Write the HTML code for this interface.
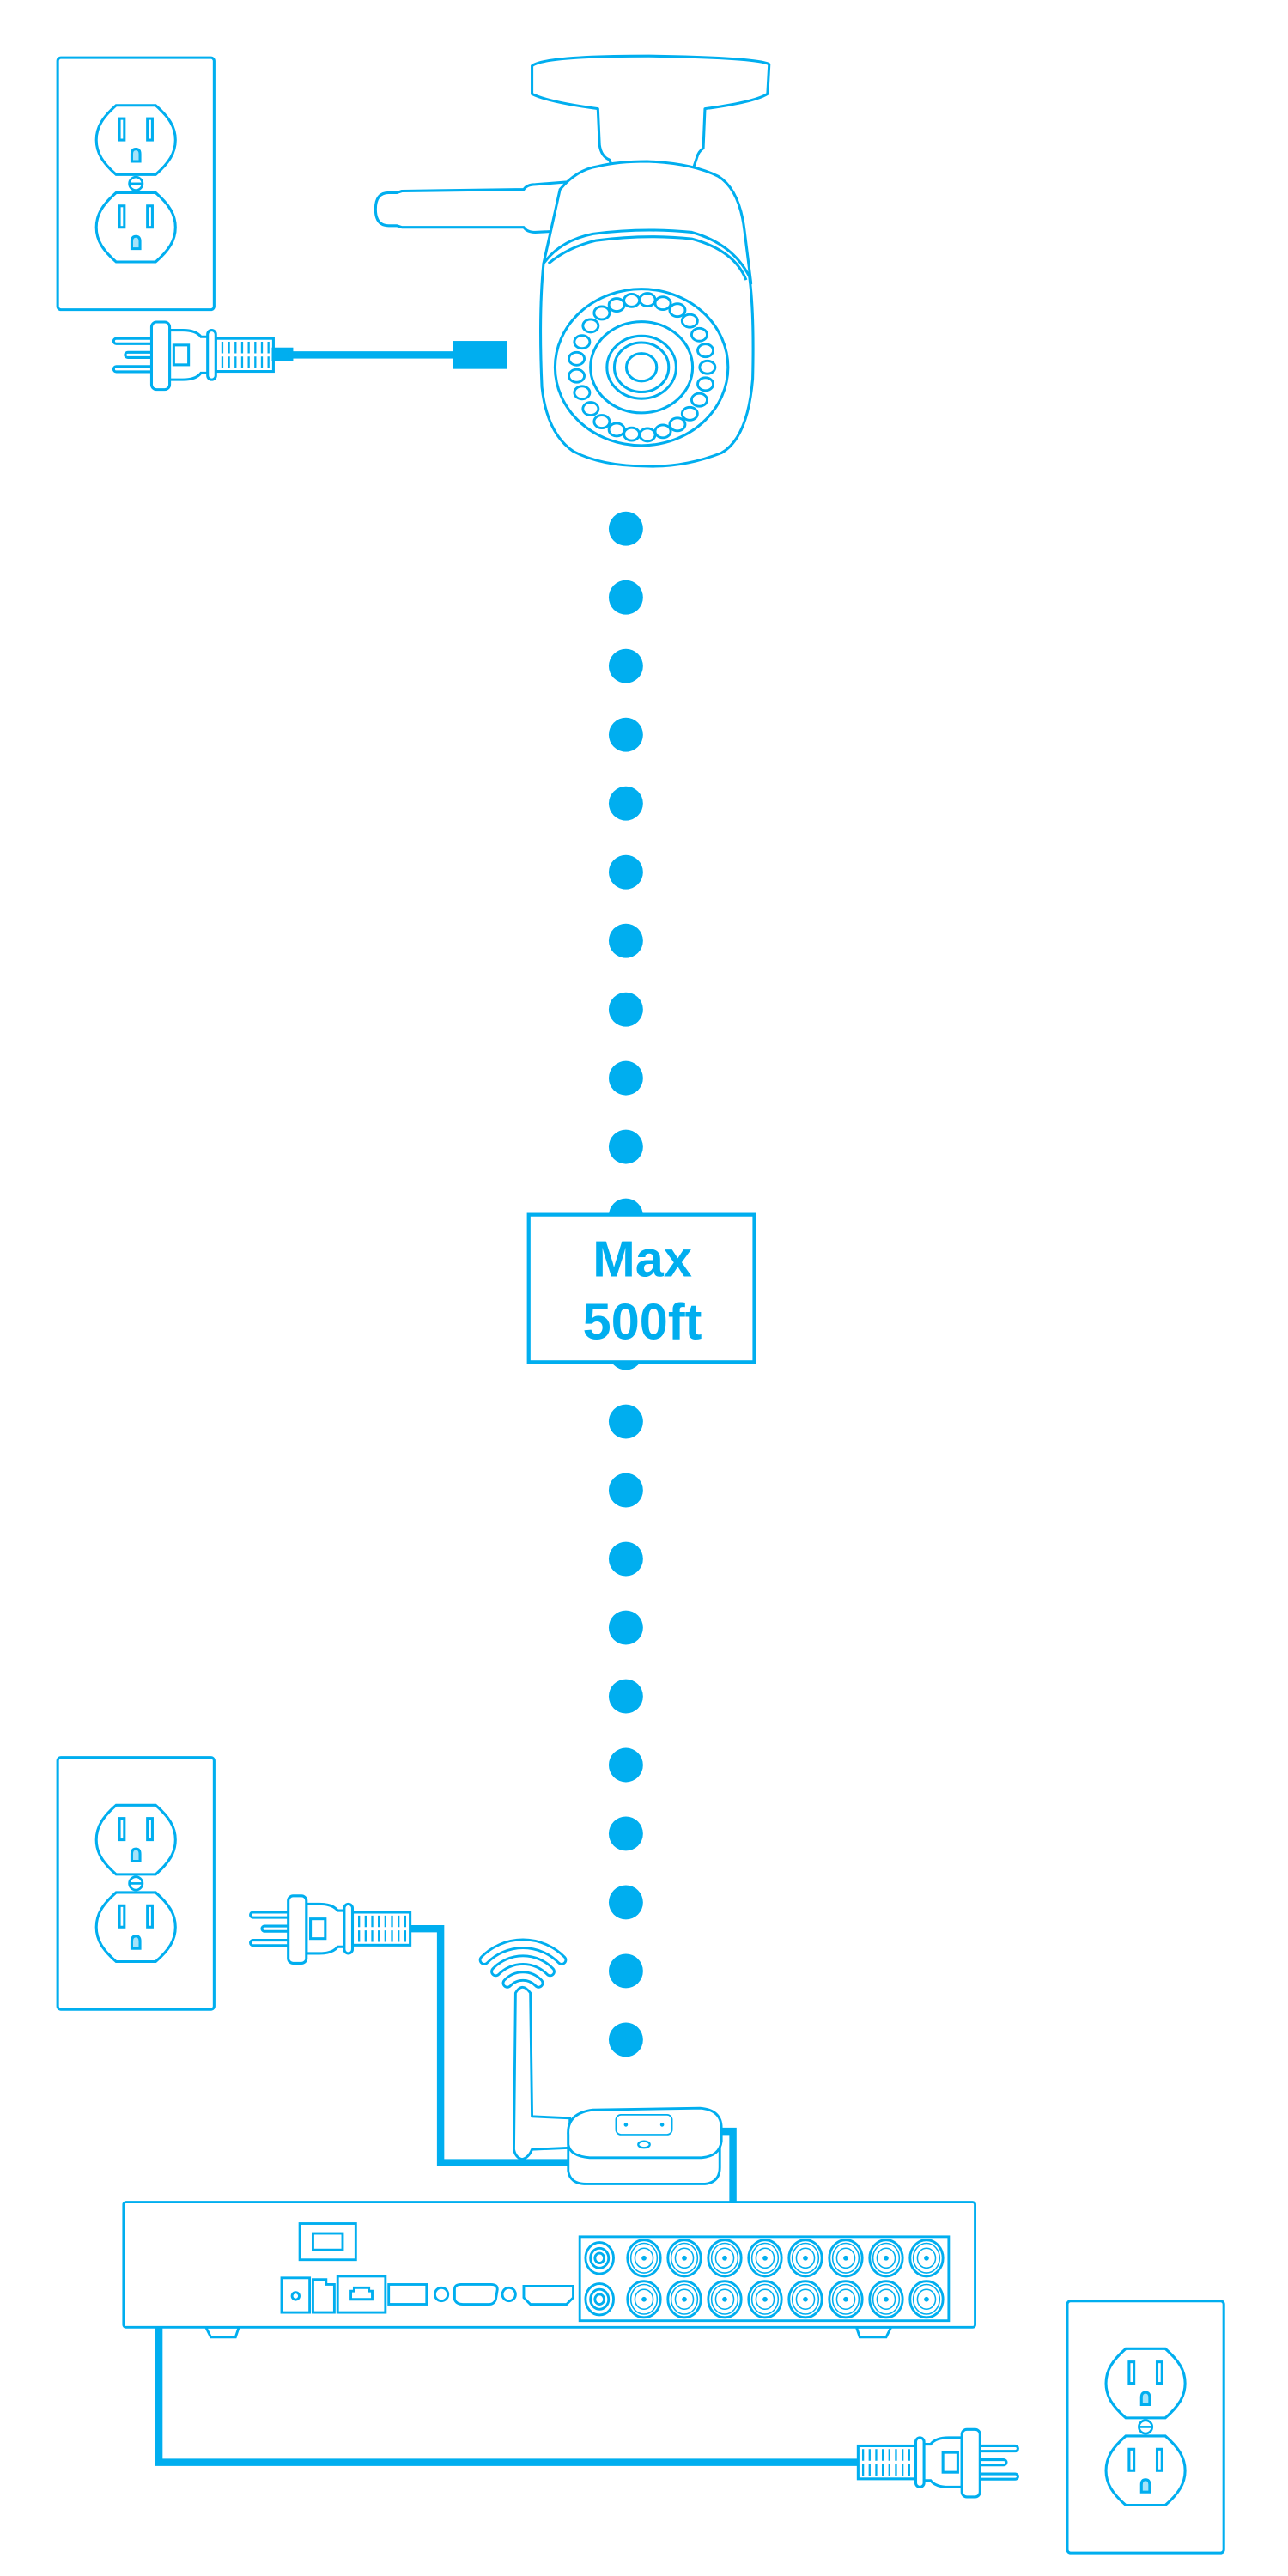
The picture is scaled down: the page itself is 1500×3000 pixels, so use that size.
<!DOCTYPE html>
<html><head><meta charset="utf-8"><style>
html,body{margin:0;padding:0;background:#fff;}
svg{display:block;}
</style></head><body>
<svg width="1500" height="3000" viewBox="0 0 782 1564" xmlns="http://www.w3.org/2000/svg">
<defs>
<g id="rec" fill="none" stroke="#00aeef" stroke-width="1.6">
  <path d="M-12,-21 H12 C20,-14 24,-8 24,0 C24,8 20,14 12,21 H-12 C-20,14 -24,8 -24,0 C-24,-8 -20,-14 -12,-21 Z"/>
  <rect x="-10" y="-13" width="3" height="13"/>
  <rect x="7" y="-13" width="3" height="13"/>
  <path d="M-2.5,13 V8.5 Q-2.5,5.5 0,5.5 Q2.5,5.5 2.5,8.5 V13 Z" fill="#00aeef" fill-opacity="0.35"/>
</g>
<g id="outlet">
  <rect x="0" y="0" width="95" height="153" rx="2" fill="#fff" stroke="#00aeef" stroke-width="1.6"/>
  <use href="#rec" x="47.5" y="50"/>
  <use href="#rec" x="47.5" y="103"/>
  <ellipse cx="47.5" cy="76.5" rx="4" ry="4" fill="none" stroke="#00aeef" stroke-width="1.4"/>
  <line x1="43.5" y1="76.5" x2="51.5" y2="76.5" stroke="#00aeef" stroke-width="1.4"/>
</g>
<g id="plug" fill="#fff" stroke="#00aeef" stroke-width="1.6">
  <rect x="0" y="-10" width="25" height="3.2" rx="1.6"/>
  <rect x="7" y="-1.6" width="18" height="3.2" rx="1.6"/>
  <rect x="0" y="7" width="25" height="3.2" rx="1.6"/>
  <path d="M34,-15 H42 Q50,-15 53,-11 H58 V11 H53 Q50,15 42,15 H34 Z"/>
  <rect x="36.5" y="-6" width="9" height="12"/>
  <rect x="23" y="-20" width="11" height="41" rx="3"/>
  <rect x="62" y="-10" width="35" height="20"/>
  <path d="M66,-8V-1M70,-8V-1M74,-8V-1M78,-8V-1M82,-8V-1M86,-8V-1M90,-8V-1M94,-8V-1M66,1V8M70,1V8M74,1V8M78,1V8M82,1V8M86,1V8M90,1V8M94,1V8" stroke-width="1.2"/>
  <rect x="57" y="-15" width="5" height="30" rx="2.5"/>
</g>
<g id="bnc" fill="none" stroke="#00aeef">
  <ellipse rx="10" ry="11" stroke-width="1.5"/>
  <ellipse rx="8" ry="9" stroke-width="0.8"/>
  <ellipse rx="5.5" ry="6" stroke-width="0.8"/>
  <circle r="1" fill="#00aeef"/>
</g>
<g id="rca" fill="none" stroke="#00aeef" stroke-width="1.5">
  <ellipse rx="8.5" ry="9.5"/><ellipse rx="5.5" ry="6"/><ellipse rx="2.8" ry="3"/>
</g>
</defs>

<use href="#outlet" x="35" y="35"/>
<use href="#outlet" x="35" y="1067"/>
<use href="#outlet" x="648" y="1397"/>

<use href="#plug" x="69" y="215.5"/>
<rect x="165" y="211" width="13" height="8" fill="#00aeef"/>
<rect x="175" y="213.3" width="103" height="4.4" fill="#00aeef"/>
<rect x="275" y="207" width="33" height="17" fill="#00aeef"/>

<g fill="#fff" stroke="#00aeef" stroke-width="1.6" stroke-linejoin="round">
  <path d="M323,40 Q330,34 394,34 Q460,35 467,39 L466,57 Q458,62 428,66 L427,90 Q424,92 423,96 L421,102 L372,102 L370,97 Q365,95 364,88 L363,66 Q333,62 323,57 Z"/>
  <path d="M228,127 Q228,117 236,117 L241,117 L244,116 L318,115 Q320,112 325,112 L350,110 L345,140 L325,141 Q320,141 318,138 L244,138 L241,137 L236,137 Q228,137 228,127 Z"/>
  <path d="M330,160 L340,115 Q350,103 363,101 Q375,98 393,98 Q420,99 436,107 Q449,115 452,140 L456,172 Z"/>
  <path d="M330,160 Q340,146 360,142 Q390,138 420,141 Q445,148 455,168 Q458,190 457,230 Q454,266 438,275 Q415,284 392,283 Q365,283 348,274 Q332,263 329,235 Q327,190 330,160 Z"/>
  <path d="M333,160 Q345,150 362,146 Q392,142 420,145 Q446,152 453,170" fill="none"/>
  <ellipse cx="389.5" cy="223" rx="52.5" ry="47.5"/>
  <ellipse cx="389.5" cy="223" rx="31" ry="27.7"/>
  <ellipse cx="389.5" cy="223" rx="21" ry="19"/>
  <ellipse cx="389.5" cy="223" rx="16.5" ry="15"/>
  <ellipse cx="389.5" cy="223" rx="9.2" ry="8.4"/>
</g>

<g fill="#00aeef">
  <circle cx="380" cy="321" r="10.4"/><circle cx="380" cy="362.7" r="10.4"/><circle cx="380" cy="404.4" r="10.4"/>
  <circle cx="380" cy="446.1" r="10.4"/><circle cx="380" cy="487.8" r="10.4"/><circle cx="380" cy="529.5" r="10.4"/>
  <circle cx="380" cy="571.2" r="10.4"/><circle cx="380" cy="612.9" r="10.4"/><circle cx="380" cy="654.6" r="10.4"/>
  <circle cx="380" cy="696.3" r="10.4"/><circle cx="380" cy="738" r="10.4"/><circle cx="380" cy="779.7" r="10.4"/>
  <circle cx="380" cy="821.4" r="10.4"/><circle cx="380" cy="863.1" r="10.4"/><circle cx="380" cy="904.8" r="10.4"/>
  <circle cx="380" cy="946.5" r="10.4"/><circle cx="380" cy="988.2" r="10.4"/><circle cx="380" cy="1029.9" r="10.4"/>
  <circle cx="380" cy="1071.6" r="10.4"/><circle cx="380" cy="1113.3" r="10.4"/><circle cx="380" cy="1155" r="10.4"/>
  <circle cx="380" cy="1196.7" r="10.4"/><circle cx="380" cy="1238.4" r="10.4"/>
</g>

<rect x="321" y="737.5" width="137" height="89.5" fill="#fff" stroke="#00aeef" stroke-width="2.2"/>
<text x="390" y="775" text-anchor="middle" font-family="Liberation Sans, sans-serif" font-weight="bold" font-size="31" fill="#00aeef">Max</text>
<text x="390" y="813" text-anchor="middle" font-family="Liberation Sans, sans-serif" font-weight="bold" font-size="31" fill="#00aeef">500ft</text>

<use href="#plug" x="152" y="1171"/>
<path d="M249,1171 H267.5 V1313 H346" fill="none" stroke="#00aeef" stroke-width="4.4"/>

<g fill="#fff" stroke="#00aeef" stroke-width="1.5" stroke-linejoin="round">
  <path d="M313,1210 Q317,1203 322,1210 L323,1285 L346,1286 L346,1304 L323,1305 Q321,1310 317,1311 Q313,1310 312,1305 Z"/>
  <path d="M345,1295 L345,1318 Q346,1326 356,1326 L428,1326 Q437,1325 437,1316 L437,1295 Z"/>
  <path d="M345,1296 Q344,1283 360,1281 L425,1280 Q438,1281 438,1292 L438,1300 Q437,1309 426,1310 L358,1310 Q346,1309 345,1302 Z"/>
  <rect x="374" y="1284" width="34" height="12" rx="3" stroke-width="0.9"/>
  <ellipse cx="391" cy="1302" rx="3.5" ry="2" stroke-width="1.2"/>
</g>
<circle cx="380" cy="1290" r="1.2" fill="#00aeef"/><circle cx="402" cy="1290" r="1.2" fill="#00aeef"/>
<g fill="none" stroke-linecap="round">
  <path d="M294,1190 A33,33 0 0 1 341,1190" stroke="#00aeef" stroke-width="6.5"/>
  <path d="M294,1190 A33,33 0 0 1 341,1190" stroke="#fff" stroke-width="3.5"/>
  <path d="M301,1197 A23,23 0 0 1 334,1197" stroke="#00aeef" stroke-width="6.5"/>
  <path d="M301,1197 A23,23 0 0 1 334,1197" stroke="#fff" stroke-width="3.5"/>
  <path d="M308,1204 A13,13 0 0 1 327,1204" stroke="#00aeef" stroke-width="6.5"/>
  <path d="M308,1204 A13,13 0 0 1 327,1204" stroke="#fff" stroke-width="3.5"/>
</g>
<path d="M438,1294 H445 V1338" fill="none" stroke="#00aeef" stroke-width="4.4"/>

<g fill="#fff" stroke="#00aeef" stroke-width="1.5">
  <path d="M125,1413 L128,1419 L143,1419 L145,1413 Z"/>
  <path d="M520,1413 L522,1419 L538,1419 L541,1413 Z"/>
  <rect x="75" y="1337" width="517" height="76" rx="1.5"/>
  <rect x="182" y="1350" width="34" height="22"/>
  <rect x="190" y="1356" width="18" height="10"/>
  <rect x="171" y="1383" width="17" height="21"/>
  <circle cx="179.5" cy="1394" r="2.2"/>
  <path d="M190,1404 V1384 H198 V1387 H203 V1404 Z"/>
  <rect x="205" y="1382" width="29" height="22"/>
  <path d="M213,1396 V1391 H215 V1389 H224 V1391 H226 V1396 Z"/>
  <rect x="236" y="1387" width="23" height="12"/>
  <circle cx="268" cy="1393" r="4"/>
  <path d="M276,1390 Q276,1387 280,1387 H298 Q302,1387 302,1390 L301,1396 Q300,1399 297,1399 H281 Q277,1399 276,1396 Z"/>
  <circle cx="309" cy="1393" r="4"/>
  <path d="M318,1388 H348 V1395 L344,1399 H322 L318,1395 Z"/>
  <rect x="352" y="1358" width="224" height="51"/>
</g>
<use href="#rca" x="364" y="1371"/><use href="#rca" x="364" y="1396"/>
<g>
  <use href="#bnc" x="391" y="1371"/><use href="#bnc" x="415.5" y="1371"/><use href="#bnc" x="440" y="1371"/><use href="#bnc" x="464.5" y="1371"/>
  <use href="#bnc" x="489" y="1371"/><use href="#bnc" x="513.5" y="1371"/><use href="#bnc" x="538" y="1371"/><use href="#bnc" x="562.5" y="1371"/>
  <use href="#bnc" x="391" y="1396"/><use href="#bnc" x="415.5" y="1396"/><use href="#bnc" x="440" y="1396"/><use href="#bnc" x="464.5" y="1396"/>
  <use href="#bnc" x="489" y="1396"/><use href="#bnc" x="513.5" y="1396"/><use href="#bnc" x="538" y="1396"/><use href="#bnc" x="562.5" y="1396"/>
</g>

<path d="M96.5,1413 V1495 H523" fill="none" stroke="#00aeef" stroke-width="4.4"/>
<use href="#plug" transform="translate(618,1495) scale(-1,1)"/>

<g fill="#fff" stroke="#00aeef" stroke-width="1.5">
  <ellipse cx="429.5" cy="223" rx="4.7" ry="3.9"/>
  <ellipse cx="428.3" cy="233.2" rx="4.7" ry="3.9"/>
  <ellipse cx="424.6" cy="242.8" rx="4.7" ry="3.9"/>
  <ellipse cx="418.8" cy="251.2" rx="4.7" ry="3.9"/>
  <ellipse cx="411.3" cy="257.7" rx="4.7" ry="3.9"/>
  <ellipse cx="402.5" cy="261.9" rx="4.7" ry="3.9"/>
  <ellipse cx="393.1" cy="264" rx="4.7" ry="3.9"/>
  <ellipse cx="383.5" cy="263.6" rx="4.7" ry="3.9"/>
  <ellipse cx="374.4" cy="260.9" rx="4.7" ry="3.9"/>
  <ellipse cx="365.4" cy="256.0" rx="4.7" ry="3.9"/>
  <ellipse cx="358.6" cy="248.2" rx="4.7" ry="3.9"/>
  <ellipse cx="353.4" cy="238.4" rx="4.7" ry="3.9"/>
  <ellipse cx="350.1" cy="228.2" rx="4.7" ry="3.9"/>
  <ellipse cx="350.1" cy="217.8" rx="4.7" ry="3.9"/>
  <ellipse cx="353.4" cy="207.6" rx="4.7" ry="3.9"/>
  <ellipse cx="358.6" cy="197.8" rx="4.7" ry="3.9"/>
  <ellipse cx="365.4" cy="190.0" rx="4.7" ry="3.9"/>
  <ellipse cx="374.4" cy="185.1" rx="4.7" ry="3.9"/>
  <ellipse cx="383.5" cy="182.4" rx="4.7" ry="3.9"/>
  <ellipse cx="393.1" cy="182" rx="4.7" ry="3.9"/>
  <ellipse cx="402.5" cy="184.1" rx="4.7" ry="3.9"/>
  <ellipse cx="411.3" cy="188.3" rx="4.7" ry="3.9"/>
  <ellipse cx="418.8" cy="194.8" rx="4.7" ry="3.9"/>
  <ellipse cx="424.6" cy="203.2" rx="4.7" ry="3.9"/>
  <ellipse cx="428.3" cy="212.8" rx="4.7" ry="3.9"/>
</g>
</svg>
</body></html>
